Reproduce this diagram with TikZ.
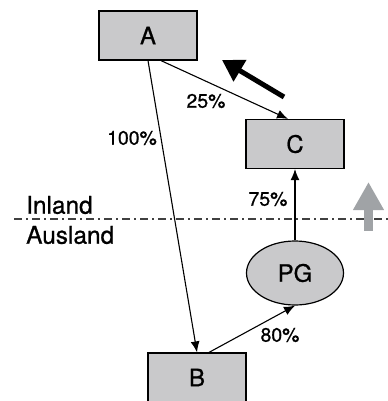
\documentclass[tikz,border=0pt]{standalone}
\usepackage{fontspec}
\setmainfont{TeX Gyre Heros}[FakeBold=0.8]
\usetikzlibrary{arrows.meta,shapes.geometric}
\definecolor{boxgray}{RGB}{201,201,203}
\definecolor{arrgray}{RGB}{160,163,166}
\tikzset{
  firm/.style={draw, line width=1.2bp, fill=boxgray, minimum width=98bp, minimum height=49bp,
    inner sep=0pt, font=\fontsize{24}{28}\selectfont},
  share/.style={-{Latex[length=11bp,width=9bp]}, line width=1.1bp},
  pct/.style={inner sep=0pt, font=\fontsize{19.5}{22}\selectfont},
  side/.style={inner sep=0pt, font=\fontsize{24.5}{28}\selectfont}
}
\begin{document}
\begin{tikzpicture}[x=1bp,y=-1bp]
        \useasboundingbox (0,0) rectangle (388,401);
        % Gesellschaften
        \node[firm] (A) at (148,35.5) {A};
        \node[firm] (C) at (295,144) {C};
        \node[firm] (B) at (197,377.5) {B};
        \node[draw, line width=1.2bp, fill=boxgray, ellipse, minimum width=97bp, minimum height=64bp,
          inner sep=0pt, font=\fontsize{24}{28}\selectfont] (PG) at (295,273) {PG};

        % Beteiligungen
        \draw[share] (A.south) -- (B.north);
        \draw[share] ([xshift=13bp]A.south) -- ([xshift=-7bp]C.north);
        \draw[share] ([xshift=12bp]B.north) -- (PG.south);
        \draw[share] (PG.north) -- (C.south);

        \node[pct] (p100) at (132,138) {100\%};
        \node[pct] (p25) at (206,101) {25\%};
        \node[pct] (p75) at (268,199) {75\%};
        \node[pct] (p80) at (280,335) {80\%};

        % Grenze
        \coordinate (g1) at (14,219);
        \coordinate (g2) at (388,219);
        \draw[line width=1.1bp, black!75, dash pattern=on 8bp off 4bp on 2bp off 4bp] (g1) -- (g2);
        \node[side, anchor=west] (inl) at (26,205) {Inland};
        \node[side, anchor=west] (ausl) at (26,235) {Ausland};

        % Pfeile
        \coordinate (s1) at (284,97);
        \coordinate (s2) at (222,60);
        \draw[line width=5bp, -{Triangle[length=21bp,width=24bp]}] (s1) -- (s2);
        \coordinate (g3) at (368.5,231);
        \coordinate (g4) at (368.5,182);
        \draw[line width=9bp, arrgray, -{Triangle[length=28bp,width=29bp]}] (g3) -- (g4);
    \end{tikzpicture}
\end{document}
